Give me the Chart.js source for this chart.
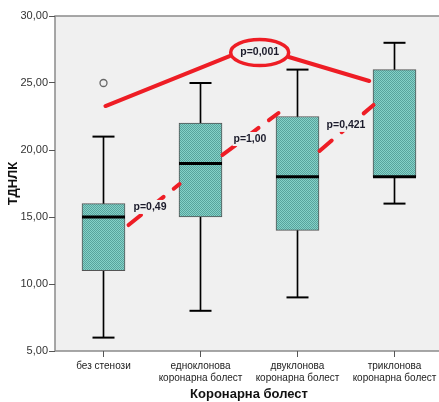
<!DOCTYPE html>
<html>
<head>
<meta charset="utf-8">
<script src="https://cdn.jsdelivr.net/npm/chart.js@4.4.1/dist/chart.umd.min.js"></script>
<style>
  html, body { margin: 0; padding: 0; background: #fff; overflow: hidden; }
  #wrap { width: 443px; height: 402px; }
</style>
</head>
<body>
<div id="wrap"><canvas id="boxChart"></canvas></div>
<script>
// Box plot data (ТДНЛК by coronary disease group)
const categories = [
    ['без стенози'],
    ['едноклонова', 'коронарна болест'],
    ['двуклонова', 'коронарна болест'],
    ['триклонова', 'коронарна болест']
];
const whiskerLow = [6, 8, 9, 16];
const q1 = [11, 15, 14, 18];
const median = [15, 19, 18, 18];
const q3 = [16, 22, 22.5, 26];
const whiskerHigh = [21, 25, 26, 28];
const outliers = [25, null, null, null];
const yTicks = [5, 10, 15, 20, 25, 30];

// p-value annotations (x = category index, y = value)
const pLabels = [
    { text: 'p=0,49', x: 0.31, y: 15.75 },
    { text: 'p=1,00', x: 1.34, y: 20.82 },
    { text: 'p=0,421', x: 2.30, y: 21.87 }
];
const dashedLinks = [
    [0.258, 14.40, 0.784, 17.46],
    [1.227, 19.63, 1.804, 22.76],
    [2.227, 19.93, 2.784, 23.36]
];
const solidLinks = [
    [0.02, 23.28, 1.30, 27.01],
    [1.91, 26.94, 2.74, 25.15]
];
const bigP = { text: 'p=0,001', x: 1.61, y: 27.27 };

function makePattern() {
    const c = document.createElement('canvas');
    c.width = 2; c.height = 2;
    const g = c.getContext('2d');
    g.fillStyle = '#84d2c8';
    g.fillRect(0, 0, 2, 2);
    g.fillStyle = '#58a39c';
    g.fillRect(0, 0, 1, 1);
    g.fillRect(1, 1, 1, 1);
    return g.createPattern(c, 'repeat');
}

const plotFrame = {
    id: 'plotFrame',
    beforeDraw(chart) {
        const { ctx, chartArea: a } = chart;
        ctx.save();
        ctx.fillStyle = '#f0f0f0';
        ctx.fillRect(a.left, a.top, a.right - a.left, a.bottom - a.top);
        ctx.strokeStyle = '#8a8a8a';
        ctx.lineWidth = 1.5;
        ctx.beginPath();
        ctx.moveTo(a.right, a.top);
        ctx.lineTo(a.left, a.top);
        ctx.lineTo(a.left, a.bottom);
        ctx.lineTo(a.right, a.bottom);
        ctx.stroke();
        ctx.restore();
    }
};

const annotations = {
    id: 'annotations',
    afterDraw(chart) {
        const ctx = chart.ctx;
        const xs = chart.scales.x, ys = chart.scales.y;
        const px = v => xs.getPixelForValue(v);
        const py = v => ys.getPixelForValue(v);
        ctx.save();
        ctx.strokeStyle = '#ee1d25';
        ctx.lineWidth = 4;
        ctx.lineCap = 'round';

        solidLinks.forEach(l => {
            ctx.beginPath();
            ctx.moveTo(px(l[0]), py(l[1]));
            ctx.lineTo(px(l[2]), py(l[3]));
            ctx.stroke();
        });
        ctx.setLineDash([16, 13]);
        dashedLinks.forEach(l => {
            ctx.beginPath();
            ctx.moveTo(px(l[0]), py(l[1]));
            ctx.lineTo(px(l[2]), py(l[3]));
            ctx.stroke();
        });
        ctx.setLineDash([]);

        // ellipse around the overall p
        ctx.lineWidth = 3.5;
        ctx.beginPath();
        ctx.ellipse(px(bigP.x), py(bigP.y), 29, 13, 0, 0, Math.PI * 2);
        ctx.stroke();

        ctx.font = 'bold 10.5px "Liberation Sans", Arial, sans-serif';
        ctx.textBaseline = 'middle';
        pLabels.forEach(p => {
            const w = ctx.measureText(p.text).width;
            ctx.fillStyle = '#f0f0f0';
            ctx.fillRect(px(p.x) - 1, py(p.y) - 7, w + 2, 14);
            ctx.fillStyle = '#1b1b2b';
            ctx.textAlign = 'left';
            ctx.fillText(p.text, px(p.x), py(p.y));
        });
        ctx.textAlign = 'center';
        ctx.fillStyle = '#1b1b2b';
        ctx.fillText(bigP.text, px(bigP.x), py(bigP.y));
        ctx.restore();
    }
};

const ctx = document.getElementById('boxChart').getContext('2d');
const boxChart = new Chart(ctx, {
    type: 'bar',
    data: {
        labels: categories,
        datasets: [
            {
                label: 'box',
                data: q1.map((v, i) => [v, q3[i]]),
                backgroundColor: makePattern(),
                borderColor: '#555555',
                borderWidth: 1,
                borderSkipped: false,
                barThickness: 43,
                grouped: false,
                order: 2
            },
            {
                label: 'whisker',
                data: whiskerLow.map((v, i) => [v, whiskerHigh[i]]),
                backgroundColor: '#000000',
                barThickness: 1,
                grouped: false,
                order: 3
            },
            {
                type: 'line',
                label: 'median',
                data: median,
                showLine: false,
                pointStyle: 'line',
                pointRadius: 21.5,
                pointBorderWidth: 3,
                pointBorderColor: '#000000',
                order: 1
            },
            {
                type: 'line',
                label: 'low cap',
                data: whiskerLow,
                showLine: false,
                pointStyle: 'line',
                pointRadius: 11,
                pointBorderWidth: 2,
                pointBorderColor: '#000000',
                order: 1
            },
            {
                type: 'line',
                label: 'high cap',
                data: whiskerHigh,
                showLine: false,
                pointStyle: 'line',
                pointRadius: 11,
                pointBorderWidth: 2,
                pointBorderColor: '#000000',
                order: 1
            },
            {
                type: 'line',
                label: 'outlier',
                data: outliers,
                showLine: false,
                pointStyle: 'circle',
                pointRadius: 3.5,
                pointBorderWidth: 1.3,
                pointBorderColor: '#666666',
                pointBackgroundColor: '#f0f0f0',
                order: 1
            }
        ]
    },
    options: {
        responsive: true,
        maintainAspectRatio: false,
        animation: false,
        layout: { autoPadding: false, padding: { top: 16, right: 0, left: 0, bottom: 0 } },
        plugins: {
            legend: { display: false },
            tooltip: { enabled: false }
        },
        scales: {
            x: {
                offset: true,
                grid: {
                    display: true,
                    offset: false,
                    drawOnChartArea: false,
                    tickLength: 6,
                    color: '#555555'
                },
                border: { display: false },
                ticks: {
                    color: '#222222',
                    padding: 3,
                    autoSkip: false,
                    maxRotation: 0,
                    font: { family: '"Liberation Sans", Arial, sans-serif', size: 10, lineHeight: 1.2 }
                },
                title: {
                    display: true,
                    text: 'Коронарна болест',
                    color: '#111111',
                    padding: { top: 1, bottom: 0 },
                    font: { family: '"Liberation Sans", Arial, sans-serif', size: 13, weight: 'bold' }
                },
                afterFit: s => {
                    s.height = 51;
                    s.paddingLeft = 0;
                    s.paddingRight = 0;
                }
            },
            y: {
                min: 5,
                max: 30,
                afterBuildTicks: s => { s.ticks = yTicks.map(v => ({ value: v })); },
                grid: {
                    display: true,
                    drawOnChartArea: false,
                    tickLength: 6,
                    color: '#555555'
                },
                border: { display: false },
                ticks: {
                    color: '#333333',
                    padding: 1,
                    font: { family: '"Liberation Sans", Arial, sans-serif', size: 11 },
                    callback: v => v.toFixed(2).replace('.', ',')
                },
                title: {
                    display: true,
                    text: 'ТДНЛК',
                    color: '#111111',
                    padding: { top: 6, bottom: 0 },
                    font: { family: '"Liberation Sans", Arial, sans-serif', size: 13, weight: 'bold' }
                },
                afterFit: s => {
                    s.width = 55;
                    s.paddingTop = 0;
                    s.paddingBottom = 0;
                }
            }
        }
    },
    plugins: [plotFrame, annotations]
});
</script>
</body>
</html>
